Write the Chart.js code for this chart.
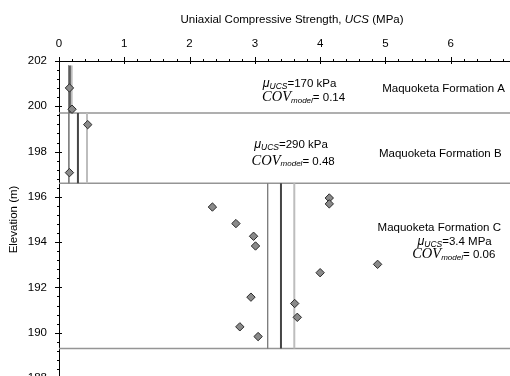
<!DOCTYPE html>
<html><head><meta charset="utf-8">
<script src="https://cdn.jsdelivr.net/npm/chart.js@4/dist/chart.umd.min.js"></script>
<style>html,body{margin:0;padding:0;overflow:hidden;background:#fff;width:510px;height:376px}canvas{display:block}</style>
</head><body>
<canvas id="c" width="530" height="394"></canvas>
<script>
// ---- data ----
const formations = ['Maquoketa Formation A', 'Maquoketa Formation B', 'Maquoketa Formation C'];
const meanText = ['170 kPa', '290 kPa', '3.4 MPa'];
const covText = ['0.14', '0.48', '0.06'];
const layerTop = [201.8, 199.7, 196.6];
const layerBottom = [199.7, 196.6, 189.3];
const boundaries = [199.7, 196.6, 189.3];
const lowerUCS = [0.146, 0.151, 3.196];
const meanUCS = [0.17, 0.29, 3.4];
const upperUCS = [0.194, 0.429, 3.604];
const sampleUCS = [0.16, 0.20, 0.44, 0.16, 2.35, 2.71, 2.98, 3.01, 2.94, 3.61, 3.65, 2.77, 3.05, 4.00, 4.88, 4.14, 4.14];
const sampleElev = [200.81, 199.87, 199.19, 197.07, 195.55, 194.82, 194.26, 193.83, 191.57, 191.29, 190.68, 190.26, 189.83, 192.65, 193.02, 195.95, 195.69];
const xTickValues = [0, 1, 2, 3, 4, 5, 6, 7];
const yTickValues = [188, 190, 192, 194, 196, 198, 200, 202];
const xTitle = ['Uniaxial Compressive Strength, ', 'UCS', ' (MPa)'];
const yTitle = 'Elevation (m)';

// ---- annotation placement (data units) ----
const labelLayout = {
  nameX: [4.95, 4.90, 4.88], nameY: [200.81, 197.94, 194.67],
  muX: [3.12, 2.99, 5.49], muY: [201.04, 198.34, 194.05],
  covX: [3.11, 2.95, 5.41], covY: [200.42, 197.60, 193.48]
};

const SANS = 'Liberation Sans, Arial, sans-serif';
const SERIF = 'Liberation Serif, Times New Roman, serif';
const FS = 11.5;

const datasets = [];
datasets.push({
  data: sampleUCS.map((x, i) => ({x, y: sampleElev[i]})),
  showLine: false, pointStyle: 'rectRot', pointRadius: 4.2,
  pointBackgroundColor: '#8a8a8a', pointBorderColor: '#2a2a2a', pointBorderWidth: 1
});
const lineStyles = [
  {src: lowerUCS, color: '#7f7f7f', width: 1},
  {src: upperUCS, color: '#bdbdbd', width: 2},
  {src: meanUCS, color: '#454545', width: 2}
];
formations.forEach((f, i) => {
  lineStyles.forEach(st => {
    datasets.push({
      data: [{x: st.src[i], y: layerTop[i]}, {x: st.src[i], y: layerBottom[i]}],
      showLine: true, pointRadius: 0, borderColor: st.color, borderWidth: st.width
    });
  });
});
boundaries.forEach(b => {
  datasets.push({
    data: [{x: xTickValues[0], y: b}, {x: xTickValues[xTickValues.length - 1], y: b}],
    showLine: true, pointRadius: 0, borderColor: '#959595', borderWidth: 1.5
  });
});

function drawRich(ctx, x, y, segs) {
  let cx = x;
  segs.forEach(s => {
    ctx.font = s.f;
    ctx.fillText(s.t, cx, y + (s.dy || 0));
    cx += ctx.measureText(s.t).width;
  });
  return cx - x;
}

const decor = {
  id: 'decor',
  afterDraw(chart) {
    const ctx = chart.ctx, xs = chart.scales.x, ys = chart.scales.y, ca = chart.chartArea;
    ctx.save();
    ctx.strokeStyle = '#000'; ctx.lineWidth = 1;
    ctx.beginPath();
    const xMin = xTickValues[0], xMax = xTickValues[xTickValues.length - 1];
    const nx = Math.round((xMax - xMin) / 0.2);
    for (let i = 0; i <= nx; i++) {
      const px = Math.round(xs.getPixelForValue(xMin + i * 0.2)) + 0.5;
      const major = i % 5 === 0;
      ctx.moveTo(px, ca.top - (major ? 4 : 2));
      ctx.lineTo(px, ca.top + (major ? 3 : 1));
    }
    const yMin = yTickValues[0], yMax = yTickValues[yTickValues.length - 1];
    const ny = Math.round((yMax - yMin) / 0.4);
    for (let i = 0; i <= ny; i++) {
      const py = Math.round(ys.getPixelForValue(yMin + i * 0.4)) + 0.5;
      const major = i % 5 === 0;
      ctx.moveTo(ca.left - (major ? 4 : 2), py);
      ctx.lineTo(ca.left + (major ? 3 : 1), py);
    }
    ctx.stroke();

    ctx.fillStyle = '#000';
    ctx.textBaseline = 'middle';
    const segs = [
      {t: xTitle[0], f: FS + 'px ' + SANS},
      {t: xTitle[1], f: 'italic ' + FS + 'px ' + SANS},
      {t: xTitle[2], f: FS + 'px ' + SANS}
    ];
    let w = 0;
    segs.forEach(s => { ctx.font = s.f; w += ctx.measureText(s.t).width; });
    drawRich(ctx, 292 - w / 2, 20, segs);
    ctx.save();
    ctx.translate(14, (ca.top + ca.bottom) / 2);
    ctx.rotate(-Math.PI / 2);
    ctx.font = FS + 'px ' + SANS; ctx.textAlign = 'center';
    ctx.fillText(yTitle, 0, 0);
    ctx.restore();

    ctx.textAlign = 'left';
    ctx.textBaseline = 'alphabetic';
    formations.forEach((f, i) => {
      const L = labelLayout;
      ctx.font = FS + 'px ' + SANS;
      ctx.fillText(f, xs.getPixelForValue(L.nameX[i]), ys.getPixelForValue(L.nameY[i]) + 4.3);
      drawRich(ctx, xs.getPixelForValue(L.muX[i]), ys.getPixelForValue(L.muY[i]) + 4.3, [
        {t: 'μ', f: 'italic 12.5px ' + SANS},
        {t: 'UCS', f: 'italic 8.5px ' + SANS, dy: 2},
        {t: '=' + meanText[i], f: FS + 'px ' + SANS}
      ]);
      drawRich(ctx, xs.getPixelForValue(L.covX[i]), ys.getPixelForValue(L.covY[i]) + 4.3, [
        {t: 'COV', f: 'italic 14.5px ' + SERIF},
        {t: 'model', f: 'italic 8px ' + SANS, dy: 1.5},
        {t: '= ' + covText[i], f: FS + 'px ' + SANS}
      ]);
    });
    ctx.restore();
  }
};

new Chart(document.getElementById('c'), {
  type: 'scatter',
  data: {datasets},
  options: {
    responsive: false, animation: false, devicePixelRatio: 1,
    layout: {padding: {left: 0, top: 0, right: 14, bottom: 16}},
    plugins: {legend: {display: false}, tooltip: {enabled: false}},
    scales: {
      x: {
        type: 'linear', position: 'top',
        min: xTickValues[0], max: xTickValues[xTickValues.length - 1],
        afterBuildTicks: s => { s.ticks = xTickValues.map(v => ({value: v})); },
        ticks: {stepSize: 1, color: '#000', font: {family: SANS, size: FS}, padding: 6, maxRotation: 0},
        grid: {drawOnChartArea: false, drawTicks: true, tickLength: 4, tickColor: 'rgba(0,0,0,0)'},
        border: {display: true, color: '#000', width: 1},
        afterFit: s => { s.height = 61; }
      },
      y: {
        type: 'linear', position: 'left',
        min: yTickValues[0], max: yTickValues[yTickValues.length - 1],
        afterBuildTicks: s => { s.ticks = yTickValues.map(v => ({value: v})); },
        ticks: {stepSize: 2, color: '#000', font: {family: SANS, size: FS}, padding: 8},
        grid: {drawOnChartArea: false, drawTicks: true, tickLength: 4, tickColor: 'rgba(0,0,0,0)'},
        border: {display: true, color: '#000', width: 1},
        afterFit: s => { s.width = 59; }
      }
    }
  },
  plugins: [decor]
});
</script>
</body></html>
